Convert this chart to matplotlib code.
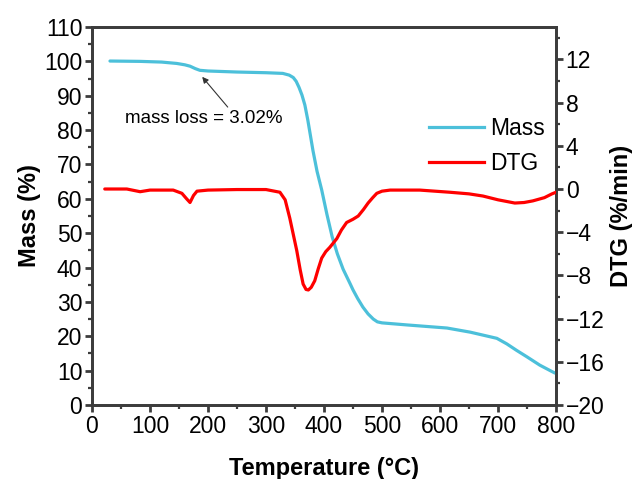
import matplotlib
matplotlib.use("Agg")
import matplotlib.pyplot as plt
from matplotlib.ticker import MultipleLocator
from matplotlib.lines import Line2D

plt.rcParams['font.family'] = ['Liberation Sans', 'DejaVu Sans']

# Mass curve (temperature °C, mass %)
mass_T = [31, 83, 120, 146, 160, 169, 178, 186, 200, 250, 300, 329, 340, 347, 352,
          357, 362, 367, 372, 377, 381, 388, 396, 405, 414, 423, 433, 445, 450, 458,
          467, 476, 485, 492, 500, 543, 612, 652, 698, 715, 732, 750, 772, 790, 798]
mass_V = [100.1, 100.0, 99.8, 99.4, 99.0, 98.6, 97.9, 97.4, 97.2, 96.9, 96.7, 96.5,
          96.0, 95.3, 94.2, 92.4, 90.2, 87.3, 83.0, 78.0, 74.0, 68.0, 62.6, 55.5, 49.0,
          44.0, 39.5, 35.3, 33.5, 31.0, 28.5, 26.5, 25.0, 24.2, 23.9, 23.3, 22.4, 21.2,
          19.4, 17.8, 15.9, 14.0, 11.6, 10.0, 9.3]

# DTG curve (temperature °C, %/min)
dtg_T = [22, 60, 83, 100, 140, 155, 163, 169, 175, 181, 200, 250, 300, 324, 333, 341,
         347, 353, 359, 364, 369, 373, 378, 384, 390, 396, 403, 410, 422, 430, 439, 450,
         459, 468, 476, 484, 491, 500, 514, 565, 617, 650, 674, 700, 729, 745, 760, 780,
         793, 800]
dtg_V = [0.0, 0.0, -0.25, -0.1, -0.1, -0.4, -0.9, -1.25, -0.6, -0.2, -0.1, -0.05, -0.05,
         -0.3, -1.0, -2.7, -4.2, -5.7, -7.5, -8.8, -9.3, -9.35, -9.1, -8.5, -7.4, -6.4,
         -5.8, -5.4, -4.6, -3.8, -3.1, -2.8, -2.5, -1.9, -1.3, -0.8, -0.4, -0.2, -0.1,
         -0.1, -0.3, -0.45, -0.65, -1.0, -1.3, -1.25, -1.1, -0.8, -0.45, -0.3]

cyan = '#4cc0da'
red = '#ff0000'
spine_c = '#3c3c3c'

fig = plt.figure(figsize=(6.38, 4.79), dpi=100)
ax = fig.add_axes([0.1442, 0.1545, 0.7273, 0.7891])
ax2 = ax.twinx()

ax.plot(mass_T, mass_V, color=cyan, lw=2.3, solid_capstyle='round', zorder=3)
ax2.plot(dtg_T, dtg_V, color=red, lw=2.3, solid_capstyle='round', zorder=3)

ax.set_xlim(0, 800)
ax.set_ylim(0, 110)
ax2.set_ylim(-20, 15)

ax.xaxis.set_major_locator(MultipleLocator(100))
ax.xaxis.set_minor_locator(MultipleLocator(50))
ax.yaxis.set_major_locator(MultipleLocator(10))
ax.yaxis.set_minor_locator(MultipleLocator(5))
ax2.yaxis.set_major_locator(MultipleLocator(4))
ax2.yaxis.set_minor_locator(MultipleLocator(2))

for a in (ax, ax2):
    for s in a.spines.values():
        s.set_color(spine_c)
        s.set_linewidth(2.0)
    a.tick_params(which='major', direction='out', length=5, width=2.0, color=spine_c,
                  labelsize=16.5, pad=2)
    a.tick_params(which='minor', direction='out', length=3, width=1.6, color=spine_c)

ax.set_xlabel('Temperature (°C)', fontsize=17, fontweight='bold', labelpad=14)
ax.set_ylabel('Mass (%)', fontsize=17, fontweight='bold', labelpad=2)
ax2.set_ylabel('DTG (%/min)', fontsize=17, fontweight='bold', labelpad=4)

ax.text(57, 83.5, 'mass loss = 3.02%', fontsize=13.5, va='center', ha='left')
ax.annotate('', xy=(190, 95.5), xytext=(234, 86.7),
            arrowprops=dict(arrowstyle='-|>', color='#333333', lw=0.8,
                            mutation_scale=9, shrinkA=0, shrinkB=0))

handles = [Line2D([], [], color=cyan, lw=2.3), Line2D([], [], color=red, lw=2.3)]
ax2.legend(handles, ['Mass', 'DTG'], loc='upper right', bbox_to_anchor=(0.995, 0.785),
           frameon=False, fontsize=16.5, handlelength=2.4, handletextpad=0.25,
           labelspacing=0.5, borderaxespad=0)

fig.savefig('out.png', dpi=100)
